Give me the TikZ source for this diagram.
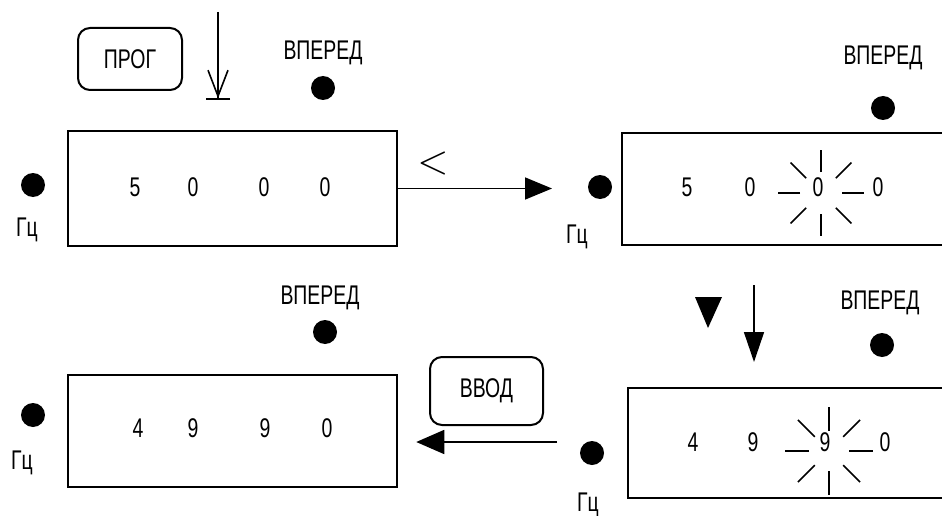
\documentclass[tikz,border=0pt]{standalone}
\usepackage{fontspec}
\newfontfamily\lcd{Liberation Sans}[FakeStretch=0.72]
\usetikzlibrary{arrows.meta,calc}

\begin{document}
\begin{tikzpicture}[x=1pt,y=-1pt,
    lbl/.style={font=\lcd\fontsize{27}{28}\selectfont,inner sep=0pt},
    panel/.style={draw,line width=2.5pt,minimum width=329pt,inner sep=0pt},
    key/.style={draw,line width=2pt,rounded corners=12pt,inner sep=0pt,
      font=\lcd\fontsize{27}{28}\selectfont},
    led/.style={circle,fill,minimum size=24pt,inner sep=0pt},
    ray/.style={line width=1.6pt},
    conn/.style={line width=1.6pt}]
    \useasboundingbox (0,0) rectangle (942,516);

    % panels
    \node[panel,minimum height=115pt] (box1) at (232.5,188.5) {};
    \node[panel,minimum height=112pt] (box2) at (786.5,189) {};
    \node[panel,minimum height=112pt] (box3) at (232.5,431) {};
    \node[panel,minimum height=110pt] (box4) at (792.5,443) {};

    % digits
    \node[lbl] (d11) at (135,187) {5};
    \node[lbl] (d12) at (193,187) {0};
    \node[lbl] (d13) at (264,187) {0};
    \node[lbl] (d14) at (325,187) {0};
    \node[lbl] (d21) at (687,187) {5};
    \node[lbl] (d22) at (750,187) {0};
    \node[lbl] (d23) at (818,187) {0};
    \node[lbl] (d24) at (878,187) {0};
    \node[lbl] (d31) at (138,428) {4};
    \node[lbl] (d32) at (193,428) {9};
    \node[lbl] (d33) at (265,428) {9};
    \node[lbl] (d34) at (327,428) {0};
    \node[lbl] (d41) at (693,442) {4};
    \node[lbl] (d42) at (753,442) {9};
    \node[lbl] (d43) at (825,442) {9};
    \node[lbl] (d44) at (885,442) {0};

    % flashing digit
    \coordinate (fl2) at (821,193);
    \coordinate (fl4) at (829,451);
    \foreach \a in {0,45,...,315} {
      \draw[ray] ($(fl2)+(\a:21)$) -- ($(fl2)+(\a:43)$);
      \draw[ray] ($(fl4)+(\a:20)$) -- ($(fl4)+(\a:44)$);
    }

    % indicators
    \node[led] (hz1) at (33,185) {};
    \node[lbl] at (27,230) {Гц};
    \node[led] (hz2) at (600,187) {};
    \node[lbl] at (577,237) {Гц};
    \node[led] (hz3) at (33,415) {};
    \node[lbl] at (22,463) {Гц};
    \node[led] (hz4) at (592,453) {};
    \node[lbl] at (588,505) {Гц};
    \node[lbl] at (323,53) {ВПЕРЕД};
    \node[led] (fw1) at (323,88) {};
    \node[lbl] at (883,58) {ВПЕРЕД};
    \node[led] (fw2) at (883,108) {};
    \node[lbl] at (320,298) {ВПЕРЕД};
    \node[led] (fw3) at (325,332) {};
    \node[lbl] at (880,303) {ВПЕРЕД};
    \node[led] (fw4) at (882,345) {};

    % keys
    \node[key,minimum width=104pt,minimum height=62pt] (prog) at (130,59) {ПРОГ};
    \node[key,minimum width=113pt,minimum height=68pt] (enter) at (486.5,391) {ВВОД};
    \coordinate (press) at (218,12);
    \coordinate (pressend) at (218,100);
    \draw[conn,-{Straight Barb[length=26pt,width=20pt,line width=1.6pt] Bar[width=24pt,line width=1.6pt]}] (press) -- (pressend);
    \node[inner sep=0pt] (left) at (433,163) {\scalebox{4}{$<$}};
    \fill (695,297) -- (722,297) -- (708,328) -- cycle;
    \coordinate (down) at (754,285);
    \coordinate (downend) at (754,362);
    \draw[conn,-{Triangle[length=30pt,width=20pt]}] (down) -- (downend);

    % connectors
    \coordinate (arr1) at (552,188.5);
    \draw[conn,-{Triangle[length=27pt,width=22pt]}] (box1.east) -- (arr1);
    \coordinate (in3) at (557,442);
    \draw[conn,-{Triangle[length=28pt,width=24pt]},shorten >=18pt] (in3) -- (in3 -| box3.east);
\end{tikzpicture}
\end{document}
